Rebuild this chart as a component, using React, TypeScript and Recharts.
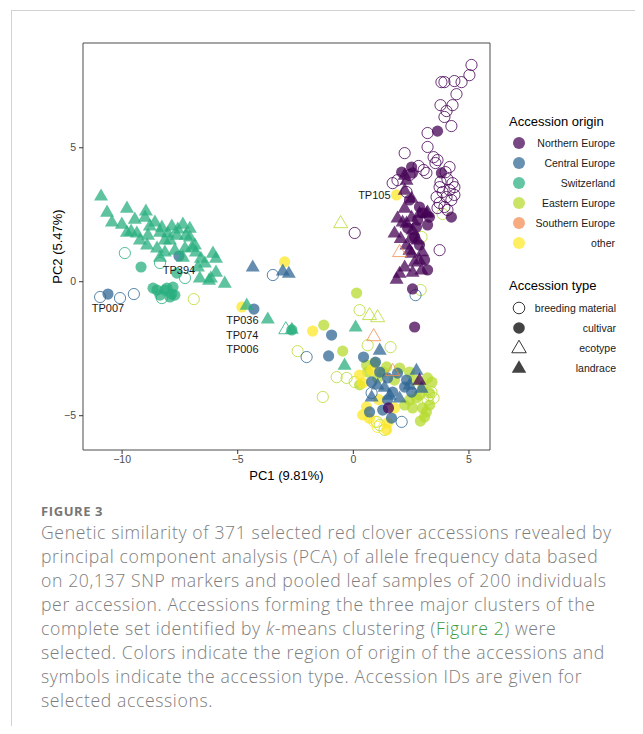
import { ScatterChart, Scatter, XAxis, YAxis, ReferenceArea, Label } from 'recharts'

type Pt = [number, number]

// PCA scores [PC1, PC2], grouped by region of origin and accession type
const northernBreeding: Pt[] = [
  [5.11, 8.09], [5.02, 7.71], [3.81, 7.45], [3.94, 7.45], [4.37, 7.49], [4.68, 7.45], [4.46, 7.0],
  [3.77, 6.59], [4.29, 6.59], [4.03, 6.37], [3.94, 6.15], [4.24, 5.81], [3.21, 5.55], [2.22, 4.8],
  [3.21, 5.03], [3.47, 4.65], [3.64, 4.54], [3.55, 4.43], [4.16, 4.28], [1.91, 3.79], [2.82, 4.32],
  [3.16, 4.06], [4.07, 3.83], [4.29, 3.68], [3.73, 3.53], [3.86, 3.35], [3.6, 3.16], [4.03, 3.16],
  [3.73, 2.94], [4.24, 3.05], [3.94, 2.79], [3.64, 2.75], [4.07, 2.68], [4.37, 3.53], [4.37, 3.24],
  [1.7, 3.68], [2.3, 3.35], [0.06, 1.82], [3.73, 1.18], [2.43, 3.98], [3.04, 4.17], [3.99, 4.09],
  [3.77, 3.72], [4.16, 3.42],
]
const northernCultivar: Pt[] = [
  [3.64, 5.62], [2.52, 4.28], [2.56, 4.06], [2.09, 4.09], [3.81, 4.06], [4.24, 2.41], [2.86, 2.79],
  [2.99, 2.56], [3.21, 2.12], [2.73, 2.04], [2.65, 1.67], [2.56, 1.63], [3.21, 0.44], [2.56, -0.27],
  [2.65, -1.69], [1.52, -4.71], [2.43, 3.05], [2.78, 2.3], [2.35, 2.0], [2.86, 1.37], [3.08, 0.81],
  [3.29, 2.41],
]
const northernLandrace: Pt[] = [
  [2.3, 3.79], [2.22, 3.42], [2.52, 3.12], [2.22, 2.75], [3.16, 2.56], [2.52, 2.41], [1.91, 2.38],
  [1.78, 1.82], [2.3, 2.19], [2.13, 2.23], [2.56, 1.93], [2.86, 2.56], [3.21, 2.6], [2.78, 1.56],
  [2.3, 1.37], [2.52, 1.07], [2.86, 0.81], [2.22, 0.55], [2.0, 0.32], [2.56, 0.36], [2.95, 0.44],
  [2.22, 3.98], [1.87, 0.1], [2.86, -3.67], [2.43, 1.18], [2.65, 0.74], [2.05, 1.62], [2.98, 1.12],
]

const centralBreeding: Pt[] = [
  [-10.95, -0.57], [-10.09, -0.61], [-9.49, -0.46], [-3.48, 0.25], [-2.02, -2.81], [2.69, -0.5],
  [0.79, -4.15], [2.09, -5.23],
]
const centralCultivar: Pt[] = [
  [-10.61, -0.46], [-7.54, 0.96], [-4.3, -1.02], [-0.94, -1.99], [-1.07, -2.77], [0.44, -2.81],
  [0.96, -3.0], [1.14, -3.37], [1.48, -3.59], [1.7, -4.12], [2.3, -3.67], [2.22, -3.93], [0.7, -4.86],
  [1.65, -5.09], [1.48, -4.41], [0.79, -3.74], [1.91, -3.41], [2.52, -4.12], [1.27, -4.79],
]
const centralLandrace: Pt[] = [
  [-4.35, 0.55], [-3.05, 0.4], [-2.79, 0.32], [1.14, -2.55], [2.73, -3.3], [2.95, -3.97], [1.35, -3.93],
  [2.0, -4.34], [1.57, -4.23], [1.05, -3.85], [0.79, -4.3], [2.43, -3.85],
]

const swissBreeding: Pt[] = [[-9.88, 1.07], [-8.36, 0.7], [-7.28, 0.14], [-8.28, -0.61]]
const swissCultivar: Pt[] = [
  [-9.18, 0.55], [-8.66, -0.24], [-8.49, -0.31], [-8.06, -0.24], [-7.8, -0.2], [-7.72, -0.5],
  [-7.93, -0.57], [-8.15, -0.31], [-7.63, 0.32], [-8.36, -0.5], [-2.66, -1.8], [-7.85, -0.46],
]
const swissEcotype: Pt[] = [[-2.92, -1.77]]
const swissLandrace: Pt[] = [
  [-10.91, 3.2], [-10.65, 2.6], [-10.44, 2.23], [-9.79, 2.75], [-9.45, 2.34], [-8.97, 2.64],
  [-10.01, 2.15], [-9.79, 1.85], [-9.36, 1.82], [-8.88, 1.74], [-8.36, 1.85], [-8.02, 1.82],
  [-7.63, 1.74], [-7.07, 1.67], [-8.92, 1.37], [-8.49, 1.26], [-8.15, 1.11], [-7.72, 1.18],
  [-7.28, 1.26], [-6.85, 1.37], [-6.59, 0.88], [-6.07, 1.07], [-5.94, 0.88], [-6.72, 0.55],
  [-5.94, 0.36], [-6.16, 0.14], [-6.64, 0.14], [-5.56, -0.05], [-7.37, 0.92], [-8.36, 0.92],
  [-8.58, 2.23], [-8.15, 1.56], [-7.85, 2.08], [-7.59, 1.97], [-7.37, 2.15], [-7.24, 1.74],
  [-8.8, 2.08], [-9.23, 1.56], [-6.42, 0.7], [-6.81, 1.11], [-4.61, -0.87], [-3.7, -1.39],
  [-2.66, -1.77], [0.1, -1.69], [-0.38, -3.11], [-7.93, 1.56], [-7.07, 2.0], [-9.01, 2.41],
  [-8.28, 2.04], [-6.98, 1.29], [-6.24, 0.06], [-9.61, 1.89],
]

const easternBreeding: Pt[] = [
  [-6.9, -0.65], [0.27, -1.06], [-2.41, -2.59], [1.61, -2.44], [0.62, -2.37], [-1.32, -4.3],
  [-0.72, -3.56], [-0.29, -3.59], [0.06, -3.74], [3.29, -4.23], [3.21, -4.41], [1.01, -5.23],
  [1.14, -5.35], [1.35, -5.53], [3.86, 2.53], [2.91, -0.31], [2.95, 1.67], [3.47, -4.34], [3.38, -4.12],
]
const easternCultivar: Pt[] = [
  [0.14, -0.42], [-1.28, -1.62], [-0.46, -2.59], [0.57, -3.11], [0.92, -3.03], [1.44, -3.18],
  [2.0, -3.22], [2.43, -3.37], [3.21, -3.59], [2.65, -3.67], [1.05, -3.59], [2.56, -4.71],
  [2.99, -4.71], [3.08, -5.05], [2.43, -4.41], [1.78, -3.67], [2.86, -4.23], [3.29, -4.15],
  [2.73, -4.34], [2.22, -4.6], [3.16, -4.86], [0.62, -3.37], [1.27, -3.37], [0.27, -3.85],
  [3.4, -3.75], [3.0, -3.9], [2.9, -5.2], [3.3, -4.6],
]
const easternEcotype: Pt[] = [[-0.55, 2.19], [0.7, -1.24], [1.05, -1.32]]

const southernEcotype: Pt[] = [[2.0, 1.11], [0.88, -2.03], [1.7, -3.33]]

const otherBreeding: Pt[] = [[1.05, -5.42], [0.92, -5.23]]
const otherCultivar: Pt[] = [
  [1.87, 3.24], [-4.82, -0.94], [-2.97, 0.74], [-1.76, -1.84], [0.27, -3.48], [0.4, -3.78],
  [0.57, -4.67], [0.4, -4.97], [1.48, -5.27], [1.44, -5.53], [1.78, -4.71], [0.79, -3.3],
  [1.1, -4.4], [0.7, -5.1],
]

const originNames = ['Northern Europe', 'Central Europe', 'Switzerland', 'Eastern Europe', 'Southern Europe', 'other']
const typeNames = ['breeding material', 'cultivar', 'ecotype', 'landrace']
const xTicks = [-10, -5, 0, 5]
const yTicks = [-5, 0, 5]

const accessionIds = [
  { id: 'TP105', x: 1.87, y: 3.24 },
  { id: 'TP007', x: -10.61, y: -0.46 },
  { id: 'TP394', x: -7.54, y: 0.96 },
  { id: 'TP036', x: -4.82, y: -0.94 },
  { id: 'TP074', x: -4.61, y: -0.87 },
  { id: 'TP006', x: -4.3, y: -1.02 },
]

const originColor: Record<string, string> = {
  'Northern Europe': '#440154',
  'Central Europe': '#2E6593',
  Switzerland: '#27AE7E',
  'Eastern Europe': '#B5DB2B',
  'Southern Europe': '#F28B4F',
  other: '#FDE725',
}

// draw order: later groups sit on top
const series = [
  { origin: 'Eastern Europe', type: 'breeding material', points: easternBreeding },
  { origin: 'Eastern Europe', type: 'cultivar', points: easternCultivar },
  { origin: 'other', type: 'breeding material', points: otherBreeding },
  { origin: 'other', type: 'cultivar', points: otherCultivar },
  { origin: 'Central Europe', type: 'breeding material', points: centralBreeding },
  { origin: 'Central Europe', type: 'cultivar', points: centralCultivar },
  { origin: 'Central Europe', type: 'landrace', points: centralLandrace },
  { origin: 'Switzerland', type: 'breeding material', points: swissBreeding },
  { origin: 'Switzerland', type: 'cultivar', points: swissCultivar },
  { origin: 'Switzerland', type: 'ecotype', points: swissEcotype },
  { origin: 'Switzerland', type: 'landrace', points: swissLandrace },
  { origin: 'Eastern Europe', type: 'ecotype', points: easternEcotype },
  { origin: 'Northern Europe', type: 'breeding material', points: northernBreeding },
  { origin: 'Northern Europe', type: 'cultivar', points: northernCultivar },
  { origin: 'Northern Europe', type: 'landrace', points: northernLandrace },
  { origin: 'Southern Europe', type: 'ecotype', points: southernEcotype },
]

const W = 500
const H = 500
const MARGIN = { top: 35, right: 18, left: 35, bottom: 18 }
const Y_AXIS_W = 40
const X_AXIS_H = 40
const PLOT_L = MARGIN.left + Y_AXIS_W
const PLOT_W = W - PLOT_L - MARGIN.right
const PLOT_H = H - MARGIN.top - MARGIN.bottom - X_AXIS_H
const X_DOMAIN: [number, number] = [-11.69, 5.91]
const Y_DOMAIN: [number, number] = [-6.28, 8.91]

const AXIS_FONT = 'Arial, "Liberation Sans", Helvetica, sans-serif'

const minus = (v: number) => (v < 0 ? `\u2212${Math.abs(v)}` : `${v}`)

function isOpen(type: string) {
  return type === 'breeding material' || type === 'ecotype'
}

function Symbol({ cx, cy, color, type, opacity = 0.74, r = 5.6 }: {
  cx: number; cy: number; color: string; type: string; opacity?: number; r?: number
}) {
  const paint = isOpen(type)
    ? { fill: 'none', stroke: color, strokeOpacity: opacity + 0.05, strokeWidth: 1 }
    : { fill: color, fillOpacity: opacity, stroke: 'none' }
  if (type === 'ecotype' || type === 'landrace') {
    const pts = `${cx},${cy - r * 1.34} ${cx + r * 1.25},${cy + r * 0.82} ${cx - r * 1.25},${cy + r * 0.82}`
    return <polygon points={pts} {...paint} />
  }
  return <circle cx={cx} cy={cy} r={r} {...paint} />
}

const markerFor = (color: string, type: string) => (props: any) => {
  if (props.cx == null) return <g />
  return <Symbol cx={props.cx} cy={props.cy} color={color} type={type} />
}

// where each ID text sits relative to its point (px)
const idPlacement: Record<string, { dx: number; dy: number; anchor: 'start' | 'middle' | 'end' }> = {
  TP105: { dx: -6, dy: 0, anchor: 'end' },
  TP007: { dx: 0, dy: 13.5, anchor: 'middle' },
  TP394: { dx: 0, dy: 14, anchor: 'middle' },
  TP036: { dx: 0.5, dy: 13, anchor: 'middle' },
  TP074: { dx: -4.5, dy: 30, anchor: 'middle' },
  TP006: { dx: -11.5, dy: 40, anchor: 'middle' },
}

const idLabel = (props: any) => {
  if (props.cx == null) return <g />
  const p = idPlacement[props.payload.id]
  return (
    <text x={props.cx + p.dx} y={props.cy + p.dy} textAnchor={p.anchor} dominantBaseline="central"
      fontSize={11} fontFamily={AXIS_FONT} fill="#1a1a1a">
      {props.payload.id}
    </text>
  )
}

function Legend() {
  return (
    <svg width={140} height={290} style={{ position: 'absolute', left: 490, top: 95 }}>
      <g fontFamily={AXIS_FONT}>
        <text x={11} y={18} fontSize={13} dominantBaseline="central" fill="#000">Accession origin</text>
        {originNames.map((o, i) => (
          <g key={o}>
            <circle cx={21} cy={40 + i * 20} r={6} fill={originColor[o]} fillOpacity={0.72} />
            <text x={117} y={40 + i * 20} fontSize={10.5} textAnchor="end" dominantBaseline="central" fill="#1a1a1a">{o}</text>
          </g>
        ))}
        <text x={11} y={182} fontSize={13} dominantBaseline="central" fill="#000">Accession type</text>
        {typeNames.map((t, i) => (
          <g key={t}>
            <Symbol cx={21} cy={205 + i * 20} color="#222" type={t} opacity={0.85} r={5.8} />
            <text x={118} y={205 + i * 20} fontSize={10.5} textAnchor="end" dominantBaseline="central" fill="#1a1a1a">{t}</text>
          </g>
        ))}
      </g>
    </svg>
  )
}

const captionLines = [
  'Genetic similarity of 371 selected red clover accessions revealed by',
  'principal component analysis (PCA) of allele frequency data based',
  'on 20,137 SNP markers and pooled leaf samples of 200 individuals',
  'per accession. Accessions forming the three major clusters of the',
]
const captionTail = [
  'selected. Colors indicate the region of origin of the accessions and',
  'symbols indicate the accession type. Accession IDs are given for',
  'selected accessions.',
]

export default function App() {
  return (
    <div style={{ position: 'relative', width: 635, height: 718, fontFamily: '"Open Sans", sans-serif' }}>
      <div style={{ position: 'absolute', left: 3, top: 1.5, right: -8, bottom: -20, borderTop: '1px solid #d2d2d2', borderLeft: '1px solid #d2d2d2' }} />
      <div style={{ position: 'absolute', left: 0, top: 0 }}>
        <ScatterChart width={W} height={H} margin={MARGIN}>
          <XAxis type="number" dataKey="x" domain={X_DOMAIN} ticks={xTicks} allowDataOverflow
            height={X_AXIS_H} axisLine={false} tickSize={4} tickMargin={2}
            tickLine={{ stroke: '#333' }} tick={{ fill: '#4d4d4d', fontSize: 10.5, fontFamily: AXIS_FONT }}
            tickFormatter={minus}>
            <Label content={() => (
              <text x={PLOT_L + PLOT_W / 2} y={MARGIN.top + PLOT_H + 25} textAnchor="middle" dominantBaseline="central"
                fontSize={13} fontFamily={AXIS_FONT} fill="#000">PC1 (9.81%)</text>
            )} />
          </XAxis>
          <YAxis type="number" dataKey="y" domain={Y_DOMAIN} ticks={yTicks} allowDataOverflow
            width={Y_AXIS_W} axisLine={false} tickSize={4} tickMargin={3}
            tickLine={{ stroke: '#333' }} tick={{ fill: '#4d4d4d', fontSize: 10.5, fontFamily: AXIS_FONT }}
            tickFormatter={minus}>
            <Label content={() => (
              <text x={49} y={MARGIN.top + PLOT_H / 2} textAnchor="middle" dominantBaseline="central"
                transform={`rotate(-90 49 ${MARGIN.top + PLOT_H / 2})`}
                fontSize={13} fontFamily={AXIS_FONT} fill="#000">PC2 (5.47%)</text>
            )} />
          </YAxis>
          <ReferenceArea x1={X_DOMAIN[0]} x2={X_DOMAIN[1]} y1={Y_DOMAIN[0]} y2={Y_DOMAIN[1]}
            fill="none" stroke="#4d4d4d" strokeWidth={1} ifOverflow="visible" />
          {series.map((s) => (
            <Scatter key={`${s.origin}-${s.type}`} data={s.points.map(([x, y]) => ({ x, y }))}
              shape={markerFor(originColor[s.origin], s.type)} isAnimationActive={false} />
          ))}
          <Scatter data={accessionIds} shape={idLabel} isAnimationActive={false} />
        </ScatterChart>
      </div>
      <Legend />
      <div style={{ position: 'absolute', left: 33, top: 494, color: '#7d7d7d' }}>
        <div style={{ fontSize: 13, fontWeight: 700, lineHeight: '18px', letterSpacing: 0.6, color: '#767676' }}>FIGURE 3</div>
        <div style={{ fontSize: 17.6, fontWeight: 300, letterSpacing: 0.62, lineHeight: '24px', whiteSpace: 'nowrap', marginTop: 0 }}>
          {captionLines.map((l) => <div key={l}>{l}</div>)}
          <div>
            complete set identified by <i>k</i>-means clustering (<span style={{ color: '#3e9b3e' }}>Figure 2</span>) were
          </div>
          {captionTail.map((l) => <div key={l}>{l}</div>)}
        </div>
      </div>
    </div>
  )
}
